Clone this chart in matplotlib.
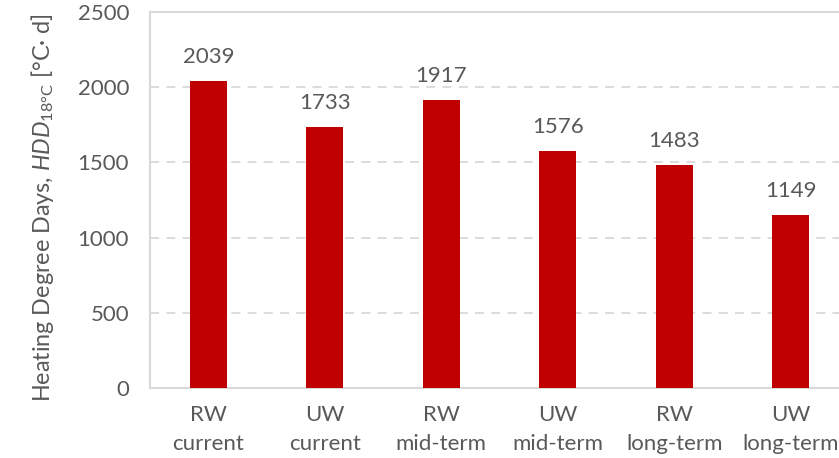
import matplotlib.pyplot as plt
import numpy as np

categories = ["RW\ncurrent", "UW\ncurrent", "RW\nmid-term", "UW\nmid-term", "RW\nlong-term", "UW\nlong-term"]
hdd = [2039, 1733, 1917, 1576, 1483, 1149]

plt.rcParams["font.family"] = ["Lato", "DejaVu Sans"]
plt.rcParams["mathtext.fontset"] = "custom"
plt.rcParams["mathtext.rm"] = "Lato"
plt.rcParams["mathtext.it"] = "Lato:italic"

txt = "#595959"
grid = "#D9D9D9"
fs = 16

fig = plt.figure(figsize=(8.39, 4.58), dpi=100)
ax = fig.add_axes([150 / 839, 70 / 458, 699 / 839, 376 / 458])

x = np.arange(len(categories))
ax.bar(x, hdd, width=0.32, color="#C00000", zorder=3)
for xi, v in zip(x, hdd):
    ax.annotate(str(v), (xi, v), xytext=(0, 10), textcoords="offset points",
                ha="center", va="bottom", fontsize=fs, color=txt)

ax.set_xlim(-0.5, len(categories) - 0.5)
ax.set_ylim(0, 2500)
ax.set_yticks(np.arange(0, 2501, 500))
ax.set_xticks(x)
ax.set_xticklabels(categories, linespacing=1.6)
ax.tick_params(axis="both", length=0, labelsize=fs, labelcolor=txt)
ax.tick_params(axis="y", pad=15)
ax.tick_params(axis="x", pad=12)

ax.yaxis.grid(True, linestyle=(0, (5, 4)), color=grid, linewidth=1.3, zorder=0)
for s in ax.spines.values():
    s.set_color(grid)
    s.set_linewidth(1.5)

ax.set_ylabel(r"Heating Degree Days, $\mathit{HDD}_{\mathrm{18°C}}$ [°C· d]",
              fontsize=16.8, color=txt)
ax.yaxis.set_label_coords(-0.135, 0.48)

plt.savefig("out.png")
